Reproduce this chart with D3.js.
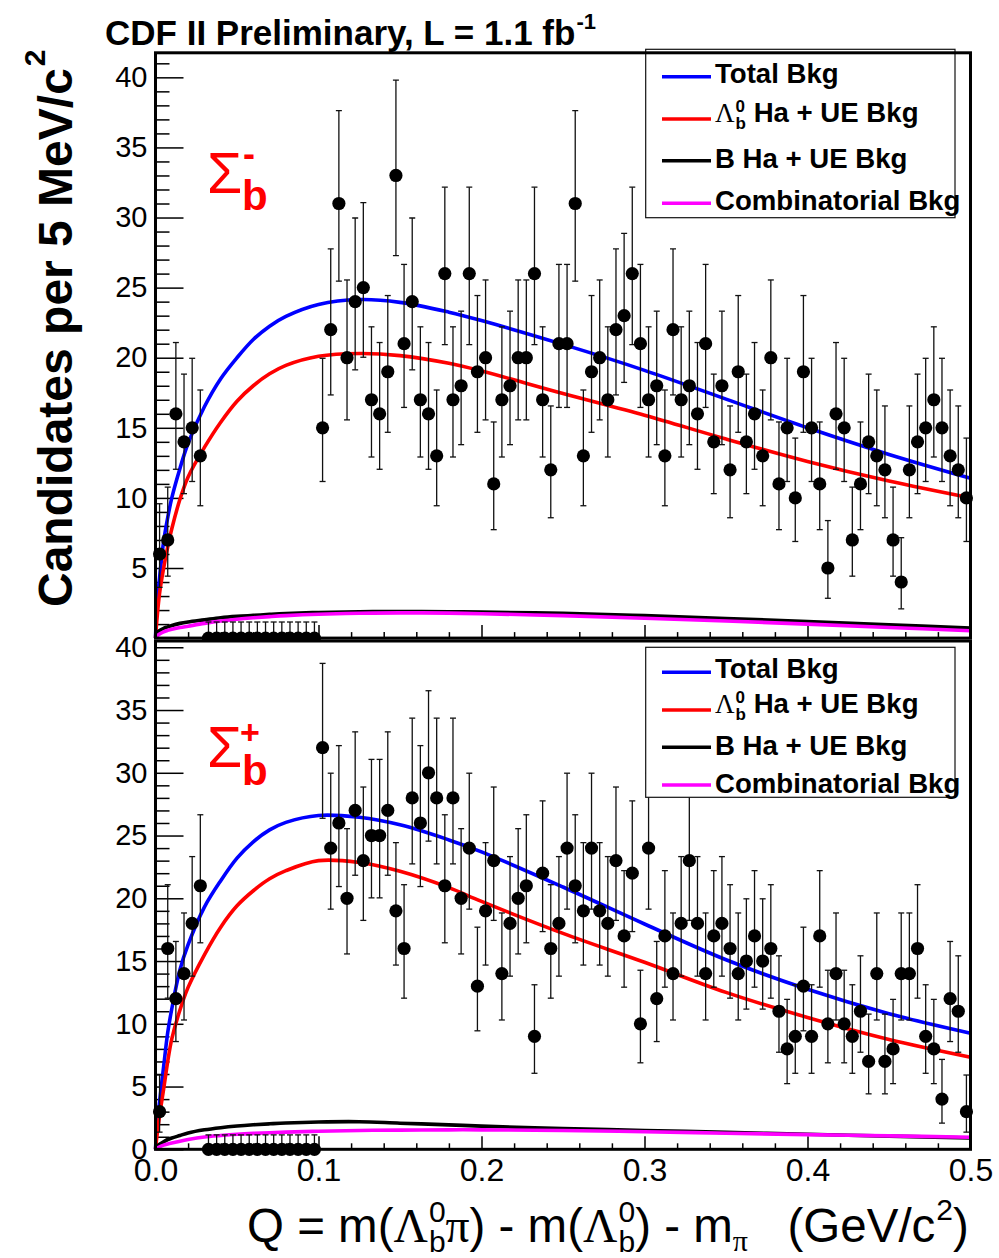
<!DOCTYPE html>
<html>
<head>
<meta charset="utf-8">
<script src="https://cdn.jsdelivr.net/npm/d3@7"></script>
<style>
  html, body { margin: 0; padding: 0; background: #fff; }
  svg { display: block; }
  text { white-space: pre; }
</style>
</head>
<body>
<svg id="chart" width="999" height="1258"></svg>
<script>
// ---- Histogram binning (5 MeV/c^2 bins from 0 to 0.5 GeV/c^2) ----
const BIN_WIDTH = 0.005;

// Candidates per bin, Sigma_b^- (upper pad); bins 6-19 are the blinded signal window
const sigmaMinusCounts = [
  6, 7, 16, 14, 15, 13,
  0, 0, 0, 0, 0, 0, 0, 0, 0, 0, 0, 0, 0, 0,
  15, 22, 31, 20, 24, 25, 17, 16, 19, 33,
  21, 24, 17, 16, 13, 26, 17, 18, 26, 19,
  20, 11, 17, 18, 20, 20, 26, 17, 12, 21,
  21, 31, 13, 19, 20, 17, 22, 23, 26, 21,
  17, 18, 13, 22, 17, 18, 16, 21, 14, 18,
  12, 19, 14, 16, 13, 20, 11, 15, 10, 19,
  15, 11, 5, 16, 15, 7, 11, 14, 13, 12,
  7, 4, 12, 14, 15, 17, 15, 13, 12, 10
];

// Candidates per bin, Sigma_b^+ (lower pad)
const sigmaPlusCounts = [
  3, 16, 12, 14, 18, 21,
  0, 0, 0, 0, 0, 0, 0, 0, 0, 0, 0, 0, 0, 0,
  32, 24, 26, 20, 27, 23, 25, 25, 27, 19,
  16, 28, 26, 30, 28, 21, 28, 20, 24, 13,
  19, 23, 14, 18, 20, 21, 9, 22, 16, 18,
  24, 21, 19, 24, 19, 18, 23, 17, 22, 10,
  24, 12, 17, 14, 18, 23, 18, 14, 17, 18,
  16, 14, 15, 17, 15, 16, 11, 8, 9, 13,
  9, 17, 10, 14, 10, 9, 11, 7, 14, 7,
  8, 14, 14, 16, 9, 8, 4, 12, 11, 3
];

// Background shapes sampled at these Q values (GeV/c^2)
const curveQ = [0, 0.001, 0.0025, 0.005, 0.0075, 0.01, 0.015, 0.02, 0.03, 0.04, 0.05, 0.06, 0.07,
                0.08, 0.1, 0.125, 0.15, 0.18, 0.2, 0.25, 0.3, 0.35, 0.4, 0.45, 0.5];

const minusTotalBkg  = [0, 2.5, 4.3, 6.9, 8.6, 10.0, 12.1, 13.9, 16.5, 18.5, 20.0, 21.3, 22.25,
                        22.95, 23.8, 24.15, 23.95, 23.25, 22.65, 20.95, 19.1, 17.05, 15.0, 13.1, 11.4];
const minusLambdaBkg = [0, 1.5, 3.2, 5.0, 6.5, 7.8, 9.9, 11.5, 13.6, 15.4, 16.9, 18.0, 18.85,
                        19.45, 20.1, 20.3, 20.15, 19.6, 19.05, 17.45, 15.9, 14.2, 12.6, 11.2, 10.0];
const minusBHaBkg    = [0.25, 0.4, 0.55, 0.7, 0.8, 0.9, 1.05, 1.15, 1.3, 1.45, 1.55, 1.62, 1.69,
                        1.75, 1.83, 1.88, 1.9, 1.88, 1.85, 1.77, 1.6, 1.4, 1.18, 0.95, 0.72];
const minusCombBkg   = [0, 0.15, 0.3, 0.45, 0.55, 0.63, 0.75, 0.85, 1.05, 1.22, 1.35, 1.45, 1.53,
                        1.6, 1.7, 1.77, 1.8, 1.78, 1.74, 1.6, 1.42, 1.22, 1.0, 0.76, 0.52];

const plusTotalBkg   = [0, 2.0, 3.8, 6.6, 9.3, 11.2, 14.3, 16.3, 19.3, 21.4, 23.2, 24.5, 25.45,
                        26.05, 26.6, 26.45, 25.85, 24.65, 23.7, 20.9, 17.95, 15.1, 12.75, 10.8, 9.25];
const plusLambdaBkg  = [0, 1.2, 2.7, 4.8, 7.0, 8.8, 11.1, 12.9, 15.5, 17.7, 19.4, 20.6, 21.55,
                        22.2, 23.0, 22.85, 22.15, 20.85, 19.75, 17.2, 14.9, 12.5, 10.5, 8.75, 7.34];
const plusBHaBkg     = [0.1, 0.25, 0.4, 0.6, 0.78, 0.9, 1.1, 1.3, 1.55, 1.72, 1.85, 1.95, 2.03,
                        2.1, 2.18, 2.2, 2.08, 1.95, 1.85, 1.65, 1.5, 1.35, 1.2, 1.05, 0.9];
const plusCombBkg    = [0, 0.1, 0.2, 0.33, 0.42, 0.5, 0.65, 0.78, 0.98, 1.1, 1.2, 1.27, 1.32,
                        1.37, 1.44, 1.5, 1.53, 1.55, 1.55, 1.5, 1.4, 1.28, 1.17, 1.07, 0.96];

// Axis ticks
const xMajorTicks = [0, 0.1, 0.2, 0.3, 0.4, 0.5];
const xMinorTicks = d3.range(1, 25).map(k => k * 0.02).filter(v => Math.abs(v * 10 - Math.round(v * 10)) > 1e-6);
const yMajorTicksUpper = [5, 10, 15, 20, 25, 30, 35, 40];
const yMajorTicksLower = [0, 5, 10, 15, 20, 25, 30, 35, 40];

const COLORS = { total: "#0000ff", lambda: "#ff0000", bha: "#000000", comb: "#ff00ff" };
const SANS = "'Liberation Sans', Arial, Helvetica, sans-serif";
const SERIF = "'Liberation Serif', 'Times New Roman', serif";

const svg = d3.select("#chart");
svg.append("rect").attr("width", 999).attr("height", 1258).attr("fill", "#fff");
const defs = svg.append("defs");

// ---- Poisson 68.3% intervals for the data error bars ----
const TAIL = 0.158655;
function poissonCdf(n, mu) {
  let t = Math.exp(-mu), s = t;
  for (let k = 1; k <= n; k++) { t *= mu / k; s += t; }
  return s;
}
function solveMu(n, target) {
  let lo = 0, hi = n + 20 + 10 * Math.sqrt(n + 1);
  for (let i = 0; i < 80; i++) {
    const m = (lo + hi) / 2;
    if (poissonCdf(n, m) > target) lo = m; else hi = m;
  }
  return (lo + hi) / 2;
}
function poissonInterval(n) {
  if (n === 0) return [0, -Math.log(2 * TAIL)];
  return [solveMu(n - 1, 1 - TAIL), solveMu(n, TAIL)];
}

// ---- Text with sub/superscripts, laid out piece by piece ----
function rich(parent, x, y, segs, base) {
  const g = parent.append("g");
  let cx = x, lastStart = x;
  segs.forEach(s => {
    const sx = s.stack ? lastStart : cx + (s.dx || 0);
    const el = g.append("text")
      .attr("x", sx).attr("y", y + (s.dy || 0))
      .attr("font-family", s.family || base.family || SANS)
      .attr("font-size", s.size || base.size)
      .attr("font-weight", s.weight || base.weight || "normal")
      .attr("fill", s.fill || base.fill || "#000")
      .text(s.t);
    const w = el.node().getComputedTextLength();
    if (s.stack) cx = Math.max(cx, sx + w);
    else { lastStart = sx; cx = sx + w; }
  });
  return g;
}

const X0 = 155.5, X1 = 970.5;
const x = d3.scaleLinear().domain([0, 0.5]).range([X0, X1]);

function drawPanel(p) {
  const y = d3.scaleLinear().domain([0, p.yMax]).range([p.yBottom, p.yTop]);
  const g = svg.append("g");

  const clipId = "clip-" + p.id;
  defs.append("clipPath").attr("id", clipId).append("rect")
    .attr("x", 0).attr("y", p.yTop - 30).attr("width", 999)
    .attr("height", p.clipBottom - (p.yTop - 30));

  // inward ticks on the left axis
  const yMajor = d3.axisLeft(y).tickValues(p.yMajor).tickSize(-28).tickPadding(8).tickFormat(d3.format("d"));
  const yMinor = d3.axisLeft(y).tickValues(d3.range(0, Math.floor(p.yMax) + 1).filter(v => v % 5 !== 0))
    .tickSize(-14).tickFormat("");
  [yMajor, yMinor].forEach(ax => {
    const a = g.append("g").attr("transform", `translate(${X0},0)`).call(ax);
    a.select(".domain").remove();
    a.selectAll(".tick line").attr("stroke", "#000").attr("stroke-width", 1.5);
    a.selectAll("text").attr("font-family", SANS).attr("font-size", 29).attr("fill", "#000");
  });

  // inward ticks on the bottom axis
  const xMajor = d3.axisBottom(x).tickValues(xMajorTicks).tickSize(-13).tickPadding(9)
    .tickFormat(p.showXLabels ? d3.format(".1f") : "");
  const xMinor = d3.axisBottom(x).tickValues(xMinorTicks).tickSize(-6).tickFormat("");
  [xMajor, xMinor].forEach(ax => {
    const a = g.append("g").attr("transform", `translate(0,${p.yBottom})`).call(ax);
    a.select(".domain").remove();
    a.selectAll(".tick line").attr("stroke", "#000").attr("stroke-width", 1.5);
    a.selectAll("text").attr("font-family", SANS).attr("font-size", 32).attr("fill", "#000");
  });

  // background components
  const line = d3.line().x(d => x(d[0])).y(d => y(d[1])).curve(d3.curveCatmullRom.alpha(0.5));
  p.curves.forEach(c => {
    g.append("path")
      .attr("d", line(curveQ.map((q, i) => [q, c.values[i]])))
      .attr("fill", "none").attr("stroke", c.color).attr("stroke-width", 3.6)
      .attr("stroke-linejoin", "round");
  });

  // data points with Poisson error bars
  const pts = g.append("g").attr("clip-path", `url(#${clipId})`);
  p.counts.forEach((n, i) => {
    const q = (i + 0.5) * BIN_WIDTH;
    const [lo, hi] = poissonInterval(n);
    const cxp = x(q);
    pts.append("line").attr("x1", cxp).attr("x2", cxp).attr("y1", y(lo)).attr("y2", y(hi))
      .attr("stroke", "#111").attr("stroke-width", 1.3);
    [lo, hi].forEach(v => {
      pts.append("line").attr("x1", cxp - 3).attr("x2", cxp + 3).attr("y1", y(v)).attr("y2", y(v))
        .attr("stroke", "#111").attr("stroke-width", 1.3);
    });
    pts.append("circle").attr("cx", cxp).attr("cy", y(n)).attr("r", 6.6).attr("fill", "#000");
  });

  // legend
  const L = p.legend;
  const lg = g.append("g");
  lg.append("rect").attr("x", L.x).attr("y", L.y).attr("width", L.w).attr("height", L.h)
    .attr("fill", "#fff").attr("stroke", "#111").attr("stroke-width", 1.2);
  legendItems.forEach((item, k) => {
    const row = L.rows[k];
    lg.append("line").attr("x1", 662).attr("x2", 711).attr("y1", row.line).attr("y2", row.line)
      .attr("stroke", item.color).attr("stroke-width", 3.6);
    rich(lg, 715, row.base, item.segs, { size: 27.6, weight: "bold" });
  });

  // channel label
  rich(g, 207, p.sigma.base, [{ t: "\u03A3", size: 57, weight: "normal" }], { fill: "#ff0000", size: 57 });
  g.append("text").attr("x", p.sigma.scriptX).attr("y", p.sigma.scriptBase)
    .attr("font-family", SANS).attr("font-weight", "bold").attr("font-size", p.sigma.scriptSize)
    .attr("fill", "#ff0000").text(p.sigma.script);
  g.append("text").attr("x", 242).attr("y", p.sigma.bBase)
    .attr("font-family", SANS).attr("font-weight", "bold").attr("font-size", 42)
    .attr("fill", "#ff0000").text("b");

  // frame
  g.append("rect").attr("x", X0).attr("y", p.yTop).attr("width", X1 - X0).attr("height", p.yBottom - p.yTop)
    .attr("fill", "none").attr("stroke", "#000").attr("stroke-width", 3);
}

const legendItems = [
  { color: COLORS.total, segs: [{ t: "Total Bkg" }] },
  { color: COLORS.lambda, segs: [
      { t: "\u039B", family: SERIF, weight: "normal", size: 27 },
      { t: "0", size: 17, dy: -10, dx: 1 },
      { t: "b", size: 17, dy: 7, stack: true },
      { t: " Ha + UE Bkg" }] },
  { color: COLORS.bha, segs: [{ t: "B Ha + UE Bkg" }] },
  { color: COLORS.comb, segs: [{ t: "Combinatorial Bkg" }] }
];

drawPanel({
  id: "minus", counts: sigmaMinusCounts,
  yMax: 41.75, yTop: 52.8, yBottom: 638.1, clipBottom: 640,
  yMajor: yMajorTicksUpper, showXLabels: false,
  curves: [
    { color: COLORS.total, values: minusTotalBkg },
    { color: COLORS.lambda, values: minusLambdaBkg },
    { color: COLORS.bha, values: minusBHaBkg },
    { color: COLORS.comb, values: minusCombBkg }
  ],
  legend: { x: 645.7, y: 49.3, w: 309.3, h: 168.4,
    rows: [{ line: 76.7, base: 83.3 }, { line: 119, base: 121.7 }, { line: 160.7, base: 168.3 }, { line: 203.3, base: 210 }] },
  sigma: { base: 192.7, script: "-", scriptX: 243, scriptBase: 166, scriptSize: 36, bBase: 210 }
});

drawPanel({
  id: "plus", counts: sigmaPlusCounts,
  yMax: 40.5, yTop: 641, yBottom: 1149.3, clipBottom: 1200,
  yMajor: yMajorTicksLower, showXLabels: true,
  curves: [
    { color: COLORS.total, values: plusTotalBkg },
    { color: COLORS.lambda, values: plusLambdaBkg },
    { color: COLORS.bha, values: plusBHaBkg },
    { color: COLORS.comb, values: plusCombBkg }
  ],
  legend: { x: 645.7, y: 647.3, w: 309.3, h: 150,
    rows: [{ line: 672.3, base: 678.3 }, { line: 710, base: 713.3 }, { line: 747.3, base: 755 }, { line: 785, base: 793.3 }] },
  sigma: { base: 767.3, script: "+", scriptX: 240, scriptBase: 743.5, scriptSize: 34, bBase: 785 }
});

// ---- Titles ----
rich(svg, 105, 45, [
  { t: "CDF II Preliminary, L = 1.1 fb" },
  { t: "-1", size: 22, dy: -16, dx: 1 }
], { size: 35, weight: "bold" });

const yTitle = svg.append("g").attr("transform", "translate(72,607) rotate(-90)");
rich(yTitle, 0, 0, [
  { t: "Candidates per 5 MeV/c" },
  { t: "2", size: 30, dy: -27, dx: 2 }
], { size: 48, weight: "bold" });

rich(svg, 247, 1242, [
  { t: "Q = m(" },
  { t: "\u039B", family: SERIF },
  { t: "0", size: 30, dy: -20, dx: 1 },
  { t: "b", size: 30, dy: 10, stack: true },
  { t: "\u03C0", family: SERIF },
  { t: ") - m(" },
  { t: "\u039B", family: SERIF },
  { t: "0", size: 30, dy: -20, dx: 1 },
  { t: "b", size: 30, dy: 10, stack: true },
  { t: ") - m" },
  { t: "\u03C0", size: 30, dy: 9, family: SERIF },
  { t: "   (GeV/c" },
  { t: "2", size: 30, dy: -22, dx: 1 },
  { t: ")" }
], { size: 47.5, weight: "normal" });
</script>
</body>
</html>
